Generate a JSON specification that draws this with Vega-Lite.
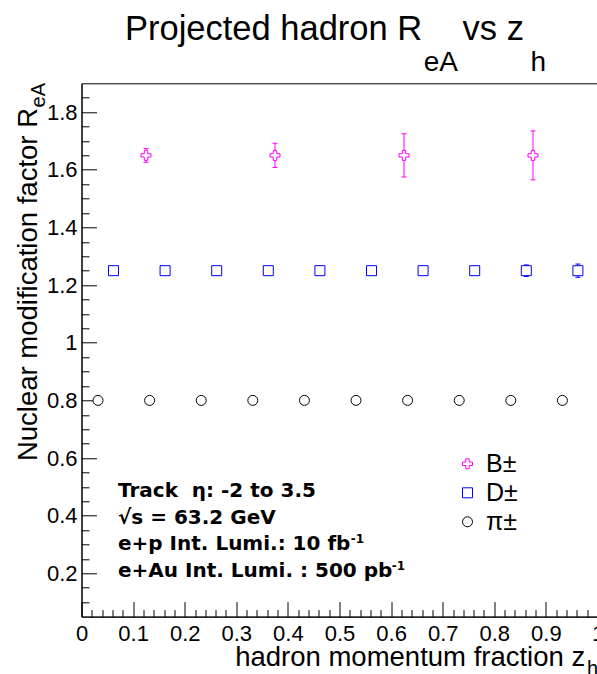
{
  "$schema": "https://vega.github.io/schema/vega-lite/v6.json",
  "width": 516,
  "height": 533.3,
  "autosize": {"type": "none"},
  "padding": {"left": 81.5, "top": 83.3, "right": 0, "bottom": 57.4},
  "background": "white",
  "config": {
    "view": {"stroke": "black", "strokeWidth": 1},
    "axis": {"domainColor": "black", "tickColor": "black", "labelColor": "black", "labelFont": "Liberation Sans", "labelFontSize": 22, "grid": false, "tickWidth": 1, "domainWidth": 1},
    "legend": {"orient": "none", "legendX": 373.5, "legendY": 368, "padding": 0, "symbolSize": 100, "symbolStrokeWidth": 1, "symbolOpacity": 1, "labelFont": "Liberation Sans", "labelFontSize": 25, "labelColor": "black", "labelOffset": 6, "rowPadding": 3, "labelLimit": 200}
  },
  "resolve": {"axis": {"x": "independent", "y": "independent"}},
  "data": {"values": [
    {"h": "B±", "z": 0.125, "r": 1.65, "lo": 1.626, "hi": 1.674},
    {"h": "B±", "z": 0.375, "r": 1.65, "lo": 1.608, "hi": 1.692},
    {"h": "B±", "z": 0.625, "r": 1.65, "lo": 1.575, "hi": 1.725},
    {"h": "B±", "z": 0.875, "r": 1.65, "lo": 1.565, "hi": 1.735},
    {"h": "D±", "z": 0.062, "r": 1.25, "lo": 1.247, "hi": 1.253},
    {"h": "D±", "z": 0.162, "r": 1.25, "lo": 1.246, "hi": 1.254},
    {"h": "D±", "z": 0.262, "r": 1.25, "lo": 1.245, "hi": 1.255},
    {"h": "D±", "z": 0.362, "r": 1.25, "lo": 1.244, "hi": 1.256},
    {"h": "D±", "z": 0.462, "r": 1.25, "lo": 1.242, "hi": 1.258},
    {"h": "D±", "z": 0.562, "r": 1.25, "lo": 1.24, "hi": 1.26},
    {"h": "D±", "z": 0.662, "r": 1.25, "lo": 1.238, "hi": 1.262},
    {"h": "D±", "z": 0.762, "r": 1.25, "lo": 1.235, "hi": 1.265},
    {"h": "D±", "z": 0.862, "r": 1.25, "lo": 1.23, "hi": 1.27},
    {"h": "D±", "z": 0.962, "r": 1.25, "lo": 1.227, "hi": 1.273},
    {"h": "π±", "z": 0.032, "r": 0.8, "lo": 0.8, "hi": 0.8},
    {"h": "π±", "z": 0.132, "r": 0.8, "lo": 0.8, "hi": 0.8},
    {"h": "π±", "z": 0.232, "r": 0.8, "lo": 0.8, "hi": 0.8},
    {"h": "π±", "z": 0.332, "r": 0.8, "lo": 0.8, "hi": 0.8},
    {"h": "π±", "z": 0.432, "r": 0.8, "lo": 0.8, "hi": 0.8},
    {"h": "π±", "z": 0.532, "r": 0.8, "lo": 0.8, "hi": 0.8},
    {"h": "π±", "z": 0.632, "r": 0.8, "lo": 0.8, "hi": 0.8},
    {"h": "π±", "z": 0.732, "r": 0.8, "lo": 0.8, "hi": 0.8},
    {"h": "π±", "z": 0.832, "r": 0.8, "lo": 0.8, "hi": 0.8},
    {"h": "π±", "z": 0.932, "r": 0.8, "lo": 0.8, "hi": 0.8}
  ]},
  "layer": [
    {
      "mark": {"type": "rule", "strokeWidth": 1, "opacity": 1},
      "encoding": {
        "x": {"field": "z", "type": "quantitative", "scale": {"domain": [0, 1], "nice": false, "zero": false},
          "axis": {"orient": "bottom", "title": null, "values": [0.02,0.04,0.06,0.08,0.12,0.14,0.16,0.18,0.22,0.24,0.26,0.28,0.32,0.34,0.36,0.38,0.42,0.44,0.46,0.48,0.52,0.54,0.56,0.58,0.62,0.64,0.66,0.68,0.72,0.74,0.76,0.78,0.82,0.84,0.86,0.88,0.92,0.94,0.96,0.98],
            "tickSize": -7, "labels": false, "domain": false}},
        "y": {"field": "lo", "type": "quantitative", "scale": {"domain": [0.05, 1.9], "nice": false, "zero": false},
          "axis": {"orient": "left", "title": null, "values": [0.1,0.15,0.25,0.3,0.35,0.45,0.5,0.55,0.65,0.7,0.75,0.85,0.9,0.95,1.05,1.1,1.15,1.25,1.3,1.35,1.45,1.5,1.55,1.65,1.7,1.75,1.85],
            "tickSize": -7.5, "labels": false, "domain": false}},
        "y2": {"field": "hi"},
        "color": {"field": "h", "type": "nominal", "title": null, "scale": {"domain": ["B±", "D±", "π±"], "range": ["#ff00ff", "#0000ff", "#000000"]}}
      }
    },
    {
      "mark": {"type": "point", "shape": "stroke", "filled": false, "size": 25, "strokeWidth": 1, "opacity": 1},
      "encoding": {
        "x": {"field": "z", "type": "quantitative", "axis": null},
        "y": {"field": "lo", "type": "quantitative", "axis": null},
        "color": {"field": "h", "type": "nominal", "title": null}
      }
    },
    {
      "mark": {"type": "point", "shape": "stroke", "filled": false, "size": 25, "strokeWidth": 1, "opacity": 1},
      "encoding": {
        "x": {"field": "z", "type": "quantitative", "axis": null},
        "y": {"field": "hi", "type": "quantitative", "axis": null},
        "color": {"field": "h", "type": "nominal", "title": null}
      }
    },
    {
      "mark": {"type": "point", "filled": false, "fill": "white", "strokeWidth": 1, "size": 100, "opacity": 1},
      "encoding": {
        "x": {"field": "z", "type": "quantitative",
          "axis": {"orient": "bottom", "title": null, "values": [0,0.1,0.2,0.3,0.4,0.5,0.6,0.7,0.8,0.9,1], "format": ".1~f", "tickSize": -15, "labelPadding": 21.5, "labelFlush": false, "labelOverlap": false, "labelBound": false}},
        "y": {"field": "r", "type": "quantitative",
          "axis": {"orient": "left", "title": null, "values": [0.2,0.4,0.6,0.8,1,1.2,1.4,1.6,1.8], "format": ".1~f", "tickSize": -15, "labelPadding": 19.5, "labelOverlap": false, "labelBound": false}},
        "color": {"field": "h", "type": "nominal", "title": null},
        "shape": {"field": "h", "type": "nominal", "title": null, "scale": {"domain": ["B±", "D±", "π±"], "range": ["M-0.34,-1L0.34,-1L0.34,-0.34L1,-0.34L1,0.34L0.34,0.34L0.34,1L-0.34,1L-0.34,0.34L-1,0.34L-1,-0.34L-0.34,-0.34Z", "M-1,-1L1,-1L1,1L-1,1Z", "M1,0A1,1,0,1,1,-1,0A1,1,0,1,1,1,0Z"]}}
      }
    },
    {
      "data": {"values": [{}]},
      "mark": {"type": "text", "text": "Projected hadron R", "font": "Liberation Sans", "fontSize": 34.5, "align": "left", "baseline": "alphabetic", "color": "black"},
      "encoding": {"x": {"datum": 0.0842, "type": "quantitative", "axis": null}, "y": {"datum": 2.0502, "type": "quantitative", "axis": null}}
    },
    {
      "data": {"values": [{}]},
      "mark": {"type": "text", "text": "eA", "font": "Liberation Sans", "fontSize": 28, "align": "left", "baseline": "alphabetic", "color": "black"},
      "encoding": {"x": {"datum": 0.6631, "type": "quantitative", "axis": null}, "y": {"datum": 1.9426, "type": "quantitative", "axis": null}}
    },
    {
      "data": {"values": [{}]},
      "mark": {"type": "text", "text": "vs z", "font": "Liberation Sans", "fontSize": 34.5, "align": "left", "baseline": "alphabetic", "color": "black"},
      "encoding": {"x": {"datum": 0.7386, "type": "quantitative", "axis": null}, "y": {"datum": 2.0502, "type": "quantitative", "axis": null}}
    },
    {
      "data": {"values": [{}]},
      "mark": {"type": "text", "text": "h", "font": "Liberation Sans", "fontSize": 28, "align": "left", "baseline": "alphabetic", "color": "black"},
      "encoding": {"x": {"datum": 0.8703, "type": "quantitative", "axis": null}, "y": {"datum": 1.9426, "type": "quantitative", "axis": null}}
    },
    {
      "data": {"values": [{}]},
      "mark": {"type": "text", "text": "hadron momentum fraction z", "font": "Liberation Sans", "fontSize": 27.5, "align": "right", "baseline": "alphabetic", "color": "black"},
      "encoding": {"x": {"datum": 0.9762, "type": "quantitative", "axis": null}, "y": {"datum": -0.1198, "type": "quantitative", "axis": null}}
    },
    {
      "data": {"values": [{}]},
      "mark": {"type": "text", "text": "h", "font": "Liberation Sans", "fontSize": 20, "align": "left", "baseline": "alphabetic", "color": "black"},
      "encoding": {"x": {"datum": 0.9797, "type": "quantitative", "axis": null}, "y": {"datum": -0.1524, "type": "quantitative", "axis": null}}
    },
    {
      "data": {"values": [{}]},
      "mark": {"type": "text", "text": "Nuclear modification factor R", "font": "Liberation Sans", "fontSize": 27.5, "align": "right", "baseline": "alphabetic", "angle": 270, "color": "black"},
      "encoding": {"x": {"datum": -0.0862, "type": "quantitative", "axis": null}, "y": {"datum": 1.8143, "type": "quantitative", "axis": null}}
    },
    {
      "data": {"values": [{}]},
      "mark": {"type": "text", "text": "eA", "font": "Liberation Sans", "fontSize": 20, "align": "right", "baseline": "alphabetic", "angle": 270, "color": "black"},
      "encoding": {"x": {"datum": -0.0707, "type": "quantitative", "axis": null}, "y": {"datum": 1.901, "type": "quantitative", "axis": null}}
    },
    {
      "data": {"values": [{}]},
      "mark": {"type": "text", "text": ["Track\u00a0\u00a0η: -2 to 3.5", "√s = 63.2 GeV", "e+p Int. Lumi.: 10 fb", "e+Au Int. Lumi. : 500 pb"], "lineHeight": 26.6, "font": "DejaVu Sans", "fontWeight": "bold", "fontSize": 20, "align": "left", "baseline": "alphabetic", "color": "black"},
      "encoding": {"x": {"datum": 0.0707, "type": "quantitative", "axis": null}, "y": {"datum": 0.465, "type": "quantitative", "axis": null}}
    },
    {
      "data": {"values": [{}]},
      "mark": {"type": "text", "text": "-1", "font": "DejaVu Sans", "fontWeight": "bold", "fontSize": 12, "align": "left", "baseline": "alphabetic", "color": "black"},
      "encoding": {"x": {"datum": 0.5218, "type": "quantitative", "axis": null}, "y": {"datum": 0.3055, "type": "quantitative", "axis": null}}
    },
    {
      "data": {"values": [{}]},
      "mark": {"type": "text", "text": "-1", "font": "DejaVu Sans", "fontWeight": "bold", "fontSize": 12, "align": "left", "baseline": "alphabetic", "color": "black"},
      "encoding": {"x": {"datum": 0.6012, "type": "quantitative", "axis": null}, "y": {"datum": 0.2118, "type": "quantitative", "axis": null}}
    }
  ]
}
